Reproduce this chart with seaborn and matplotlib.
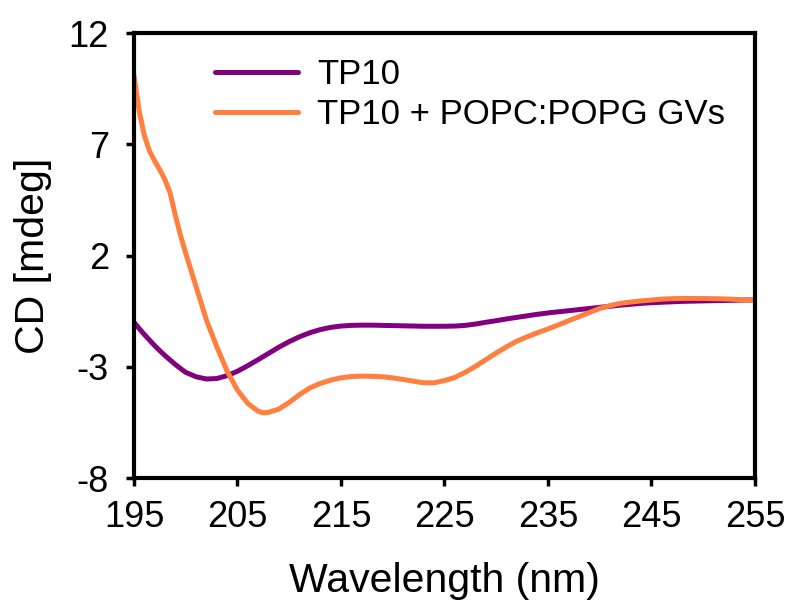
import matplotlib
matplotlib.use("Agg")
import matplotlib.pyplot as plt
import seaborn as sns
import pandas as pd

wavelength = [195, 195.5, 196, 196.5, 197, 197.5, 198, 198.5, 199, 199.5, 200,
              201, 202, 203, 204, 205, 206, 207, 207.5, 208, 209, 210, 211, 212,
              213, 214, 215, 216, 217, 218, 219, 220, 221, 222, 223, 224, 225,
              226, 227, 228, 229, 230, 231, 232, 233, 234, 235, 236, 237, 238,
              239, 240, 241, 242, 243, 244, 245, 246, 247, 248, 249, 250, 251,
              252, 253, 254, 255]

tp10 = [-1.0, -1.28, -1.55, -1.8, -2.05, -2.28, -2.5, -2.7, -2.9, -3.08, -3.25,
        -3.45, -3.55, -3.53, -3.4, -3.2, -2.95, -2.68, -2.54, -2.4, -2.12, -1.87,
        -1.65, -1.47, -1.33, -1.23, -1.17, -1.14, -1.13, -1.13, -1.14, -1.15,
        -1.16, -1.17, -1.18, -1.18, -1.18, -1.17, -1.14, -1.08, -1.0, -0.93,
        -0.85, -0.78, -0.71, -0.64, -0.58, -0.53, -0.48, -0.43, -0.38, -0.33,
        -0.28, -0.23, -0.19, -0.15, -0.12, -0.1, -0.08, -0.06, -0.05, -0.04,
        -0.03, -0.02, -0.01, 0.0, 0.0]

tp10_gv = [10.1, 8.5, 7.4, 6.7, 6.25, 5.85, 5.4, 4.8, 3.8, 2.9, 2.1,
           0.6, -0.9, -2.1, -3.2, -4.05, -4.65, -5.0, -5.07, -5.05, -4.9, -4.6,
           -4.25, -3.95, -3.75, -3.6, -3.5, -3.44, -3.42, -3.43, -3.45, -3.5,
           -3.57, -3.65, -3.72, -3.72, -3.62, -3.48, -3.25, -2.98, -2.68, -2.38,
           -2.1, -1.85, -1.65, -1.47, -1.3, -1.12, -0.93, -0.75, -0.56, -0.38,
           -0.25, -0.15, -0.09, -0.04, 0.0, 0.04, 0.06, 0.07, 0.07, 0.07, 0.06,
           0.05, 0.03, 0.0, -0.02]

series_names = ["TP10", "TP10 + POPC:POPG GVs"]
colors = ["#800080", "#FF7F3F"]
x_ticks = [195, 205, 215, 225, 235, 245, 255]
y_ticks = [-8, -3, 2, 7, 12]

df = pd.concat([
    pd.DataFrame({"wavelength": wavelength, "cd": tp10, "series": series_names[0]}),
    pd.DataFrame({"wavelength": wavelength, "cd": tp10_gv, "series": series_names[1]}),
])

sns.set_style("ticks")
plt.rcParams["font.family"] = ["Liberation Sans", "DejaVu Sans"]
plt.rcParams["text.color"] = "black"
plt.rcParams["axes.labelcolor"] = "black"
plt.rcParams["xtick.color"] = "black"
plt.rcParams["ytick.color"] = "black"
plt.rcParams["xtick.bottom"] = True
plt.rcParams["ytick.left"] = True

fig = plt.figure(figsize=(7.89, 6.07), dpi=100)
ax = fig.add_axes([0.1698, 0.2125, 0.7871, 0.7331])

sns.lineplot(data=df, x="wavelength", y="cd", hue="series", hue_order=series_names,
             palette=colors, linewidth=3.6, ax=ax, sort=False, estimator=None)

ax.set_xlim(195, 255)
ax.set_ylim(-8, 12)
ax.set_xticks(x_ticks)
ax.set_yticks(y_ticks)
ax.set_xticklabels([str(t) for t in x_ticks])
ax.set_yticklabels([str(t) for t in y_ticks])
ax.tick_params(axis="both", which="major", direction="out", length=6, width=2.5,
               labelsize=26, color="black", labelcolor="black",
               bottom=True, left=True, top=False, right=False)
ax.tick_params(axis="x", pad=10)
ax.tick_params(axis="y", pad=12)
for s in ax.spines.values():
    s.set_linewidth(3)
    s.set_color("black")
    s.set_visible(True)

ax.set_xlabel("Wavelength (nm)", fontsize=29.5, labelpad=19, color="black")
ax.set_ylabel("CD [mdeg]", fontsize=29.5, labelpad=12, color="black")

leg = ax.legend(loc="upper left", bbox_to_anchor=(0.130, 0.944), frameon=False,
                fontsize=25, handlelength=2.4, handletextpad=0.55,
                labelspacing=0.2, borderpad=0, borderaxespad=0)
for line in leg.get_lines():
    line.set_linewidth(3.6)
for t in leg.get_texts():
    t.set_color("black")

fig.savefig("out.png", dpi=100)
